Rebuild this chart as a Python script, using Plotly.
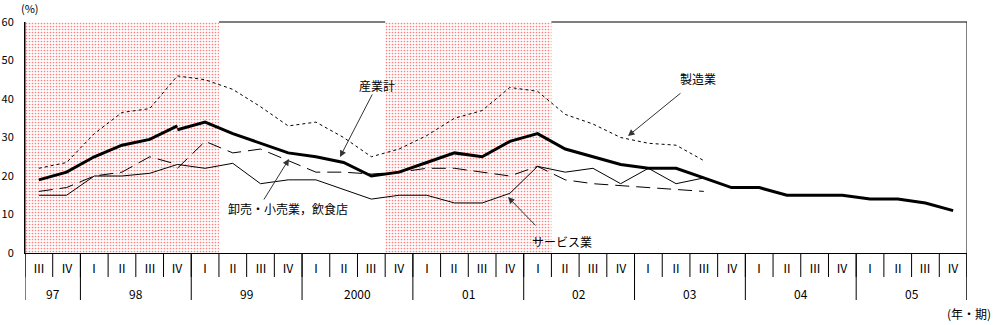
import plotly.graph_objects as go

# ---------------- data ----------------
quarters = ["Ⅲ", "Ⅳ"] + ["Ⅰ", "Ⅱ", "Ⅲ", "Ⅳ"] * 8          # 97 III .. 05 IV
years = ["97", "98", "99", "2000", "01", "02", "03", "04", "05"]
year_quarter_counts = [2, 4, 4, 4, 4, 4, 4, 4, 4]

# shaded periods (first, last quarter index)
shade_periods = [(0, 6), (13, 18)]

# 産業計 (old basis 97III-98IV, new basis 98IV-05IV)
total_old = [19, 21, 25, 28, 29.5, 33]
total_new = [32, 34, 31, 28.5, 26, 25, 23.5, 20, 21, 23.5, 26, 25, 29, 31, 27,
             25, 23, 22, 22, 19.5, 17, 17, 15, 15, 15, 14, 14, 13, 11]
# 製造業 97III-03III
manufacturing = [22, 23.5, 31, 36.5, 37.5, 46, 45, 42.5, 38, 33, 34, 30, 25, 27,
                 30.5, 35, 37, 43, 42, 36, 33.5, 30, 28.5, 28, 24]
# 卸売・小売業，飲食店 (old 97III-98IV, new 98IV-03III)
wholesale_old = [16, 17, 20, 21, 25, 23]
wholesale_new = [22, 29, 26, 27, 24, 21, 21, 20.5, 21, 22, 22, 21, 20, 22.5, 19,
                 18, 17.5, 17, 16.5, 16]
# サービス業 97III-03III
services = [15, 15, 20, 20, 20.7, 23, 22, 23.3, 18, 19, 19, 16.5, 14, 15, 15, 13,
            13, 15.5, 22.5, 21, 22, 18, 22, 18, 19.5]

# ---------------- layout geometry ----------------
W, H = 995, 325
L, R, T, B = 25, 28, 22, 72
NQ = len(quarters)
plot_w = W - L - R
plot_h = H - T - B
YMAX = 60


def px2x(px):
    return (px - L) / plot_w * NQ - 0.5


def py2y(py):
    return (T + plot_h - py) / plot_h * YMAX


def py2paper(py):
    return (T + plot_h - py) / plot_h


FONT = "Noto Sans CJK JP, Noto Sans, sans-serif"

fig = go.Figure()

# shaded periods
for a, b in shade_periods:
    fig.add_trace(go.Scatter(
        x=[a - 0.5, b + 0.5, b + 0.5, a - 0.5, a - 0.5],
        y=[0, 0, YMAX, YMAX, 0],
        mode="lines", line=dict(width=0), fill="toself",
        fillcolor="rgba(0,0,0,0)",
        fillpattern=dict(shape=".", fgcolor="#ff0000", bgcolor="#ffffff",
                         size=3, solidity=0.25),
        hoverinfo="skip", showlegend=False))


def add_line(start, vals, width, dash):
    fig.add_trace(go.Scatter(
        x=list(range(start, start + len(vals))), y=vals, mode="lines",
        line=dict(color="black", width=width, dash=dash),
        showlegend=False))


add_line(0, services, 1, "solid")
add_line(0, wholesale_old, 1, "14px,7px")
add_line(5, wholesale_new, 1, "14px,7px")
add_line(0, manufacturing, 1, "3px,3px")
add_line(0, total_old, 3, "solid")
add_line(5, total_new, 3, "solid")

shapes = []
line = dict(color="black", width=1)
# top border only over unshaded parts
prev = -0.5
for a, b in shade_periods:
    if a - 0.5 > prev:
        shapes.append(dict(type="line", xref="x", yref="paper", x0=prev, x1=a - 0.5,
                           y0=1, y1=1, line=line))
    prev = b + 0.5
shapes.append(dict(type="line", xref="x", yref="paper", x0=prev, x1=NQ - 0.5,
                   y0=1, y1=1, line=line))
# right border
shapes.append(dict(type="line", xref="x", yref="paper", x0=NQ - 0.5, x1=NQ - 0.5,
                   y0=1, y1=py2paper(300), line=line))
# left border extension
shapes.append(dict(type="line", xref="x", yref="paper", x0=-0.5, x1=-0.5,
                   y0=1, y1=py2paper(300), line=line))
# quarter separators
for k in range(NQ + 1):
    shapes.append(dict(type="line", xref="x", yref="paper", x0=k - 0.5, x1=k - 0.5,
                       y0=0, y1=py2paper(277), line=line))
# year separators
pos = -0.5
for c in year_quarter_counts:
    pos += c
    shapes.append(dict(type="line", xref="x", yref="paper", x0=pos, x1=pos,
                       y0=0, y1=py2paper(300), line=line))

annotations = []


def txt(x, y, text, size=11, xref="x"):
    annotations.append(dict(x=x, y=y, xref=xref, yref="paper", text=text,
                            showarrow=False, xanchor="center", yanchor="middle",
                            font=dict(size=size, family=FONT, color="black")))


for i, q in enumerate(quarters):
    txt(i, py2paper(267), q, 12)
pos = -0.5
for yl, c in zip(years, year_quarter_counts):
    txt(pos + c / 2, py2paper(293), yl, 12)
    pos += c

txt((969 - L) / plot_w, py2paper(313), "(年・期)", 12, xref="paper")
txt((30 - L) / plot_w, py2paper(8), "(%)", 11, xref="paper")


def label(text, cx, cy):
    txt((cx - L) / plot_w, py2paper(cy), text, 12, xref="paper")


def arrow(tail, head):
    annotations.append(dict(x=px2x(head[0]), y=py2y(head[1]), xref="x", yref="y",
                            ax=tail[0] - head[0], ay=tail[1] - head[1], text="",
                            showarrow=True, arrowhead=2, arrowsize=1.3,
                            arrowwidth=1, arrowcolor="#333333"))


label("産業計", 377, 85)
arrow((373, 93), (340, 157))
label("製造業", 698, 78)
arrow((682, 92), (628, 136))
label("卸売・小売業，飲食店", 288, 208)
arrow((263, 201), (289, 159))
label("サービス業", 562, 241)
arrow((537, 227), (508, 197))

fig.update_layout(
    width=W, height=H,
    margin=dict(l=L, r=R, t=T, b=B, pad=0, autoexpand=False),
    plot_bgcolor="white", paper_bgcolor="white",
    showlegend=False,
    xaxis=dict(range=[-0.5, NQ - 0.5], showticklabels=False, showgrid=False,
               zeroline=False, showline=True, linecolor="black", linewidth=1,
               ticks="", automargin=False),
    yaxis=dict(range=[0, YMAX], dtick=10, showgrid=False, zeroline=False,
               showline=True, linecolor="black", linewidth=1, ticks="",
               ticklabelstandoff=8, automargin=False,
               tickfont=dict(size=11, family=FONT, color="black")),
    shapes=shapes, annotations=annotations,
)

fig.write_html("out.html")
